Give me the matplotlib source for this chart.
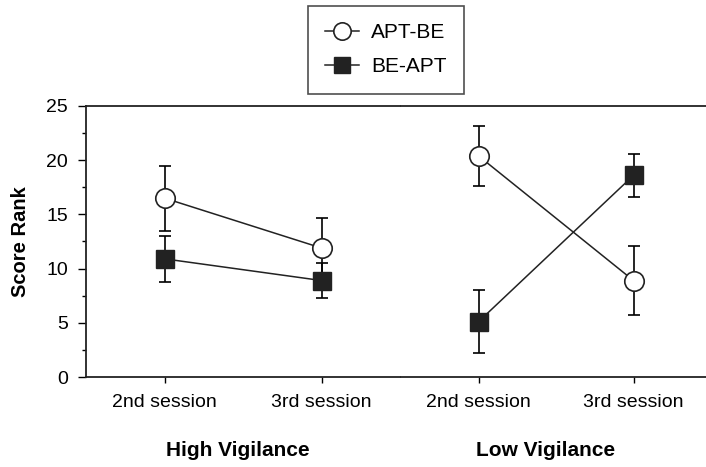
import matplotlib
matplotlib.use("Agg")
import matplotlib.pyplot as plt
from matplotlib.lines import Line2D

plt.rcParams['font.family'] = ['Liberation Sans', 'DejaVu Sans']

sessions = ['2nd session', '3rd session']
groups = ['High Vigilance', 'Low Vigilance']
series = ['APT-BE', 'BE-APT']

# mean and error per group, per session
apt_be_high = [16.5, 11.9]
apt_be_high_err = [3.0, 2.8]
be_apt_high = [10.9, 8.9]
be_apt_high_err = [2.1, 1.6]
apt_be_low = [20.4, 8.9]
apt_be_low_err = [2.8, 3.2]
be_apt_low = [5.1, 18.6]
be_apt_low_err = [2.9, 2.0]

fig = plt.figure(figsize=(7.06, 4.67), dpi=100)
ax1 = fig.add_axes([86/706, 1-377/467, 314/706, 271/467])
ax2 = fig.add_axes([401/706, 1-377/467, 310/706, 271/467], sharey=ax1)

x = [0, 1]
panels = [(ax1, apt_be_high, apt_be_high_err, be_apt_high, be_apt_high_err),
          (ax2, apt_be_low, apt_be_low_err, be_apt_low, be_apt_low_err)]
for ax, a, ae, b, be in panels:
    ax.errorbar(x, a, yerr=ae, fmt='none', ecolor='black', elinewidth=1.2,
                capsize=4, capthick=1.2, zorder=2)
    ax.errorbar(x, b, yerr=be, fmt='none', ecolor='black', elinewidth=1.2,
                capsize=4, capthick=1.2, zorder=2)
    ax.plot(x, a, color='#222222', lw=1.1, marker='o', ms=14,
            mfc='white', mec='#222222', mew=1.2, zorder=3)
    ax.plot(x, b, color='#222222', lw=1.1, marker='s', ms=13.5,
            mfc='#222222', mec='#222222', zorder=3)
    ax.set_xlim(-0.5, 1.5)
    ax.set_xticks(x)
    ax.set_xticklabels(sessions, fontsize=14)
    ax.tick_params(axis='x', length=4, width=1, pad=8, direction='out')
    for s in ax.spines.values():
        s.set_linewidth(1.3)
        s.set_color('#222222')

ax1.spines['right'].set_visible(False)
ax2.spines['left'].set_visible(False)
ax2.tick_params(axis='y', left=False, labelleft=False, which='both')

ax1.set_ylim(0, 25)
ax1.set_yticks([0, 5, 10, 15, 20, 25])
ax1.set_yticks([2.5, 7.5, 12.5, 17.5, 22.5], minor=True)
ax1.tick_params(axis='y', which='major', length=6, width=1, labelsize=14, pad=7)
ax1.tick_params(axis='y', which='minor', length=3, width=1)
ax1.set_ylabel('Score Rank', fontsize=14.5, fontweight='bold', labelpad=12)

fig.text(238/706, 1-450/467, groups[0], ha='center', va='center',
         fontsize=15, fontweight='bold')
fig.text(546/706, 1-450/467, groups[1], ha='center', va='center',
         fontsize=15, fontweight='bold')

handles = [Line2D([], [], color='#222222', lw=1.1, marker='o', ms=12.5,
                  mfc='white', mec='#222222', mew=1.2),
           Line2D([], [], color='#222222', lw=1.1, marker='s', ms=12,
                  mfc='#222222', mec='#222222')]
leg = fig.legend(handles, series, loc='center', bbox_to_anchor=(386/706, 1-49.5/467),
                 fontsize=15, frameon=True, fancybox=False, edgecolor='#222222',
                 handlelength=1.6, handletextpad=0.6, borderpad=0.85,
                 labelspacing=0.7, borderaxespad=0)
leg.get_frame().set_linewidth(1.2)

fig.savefig('out.png', dpi=100)
